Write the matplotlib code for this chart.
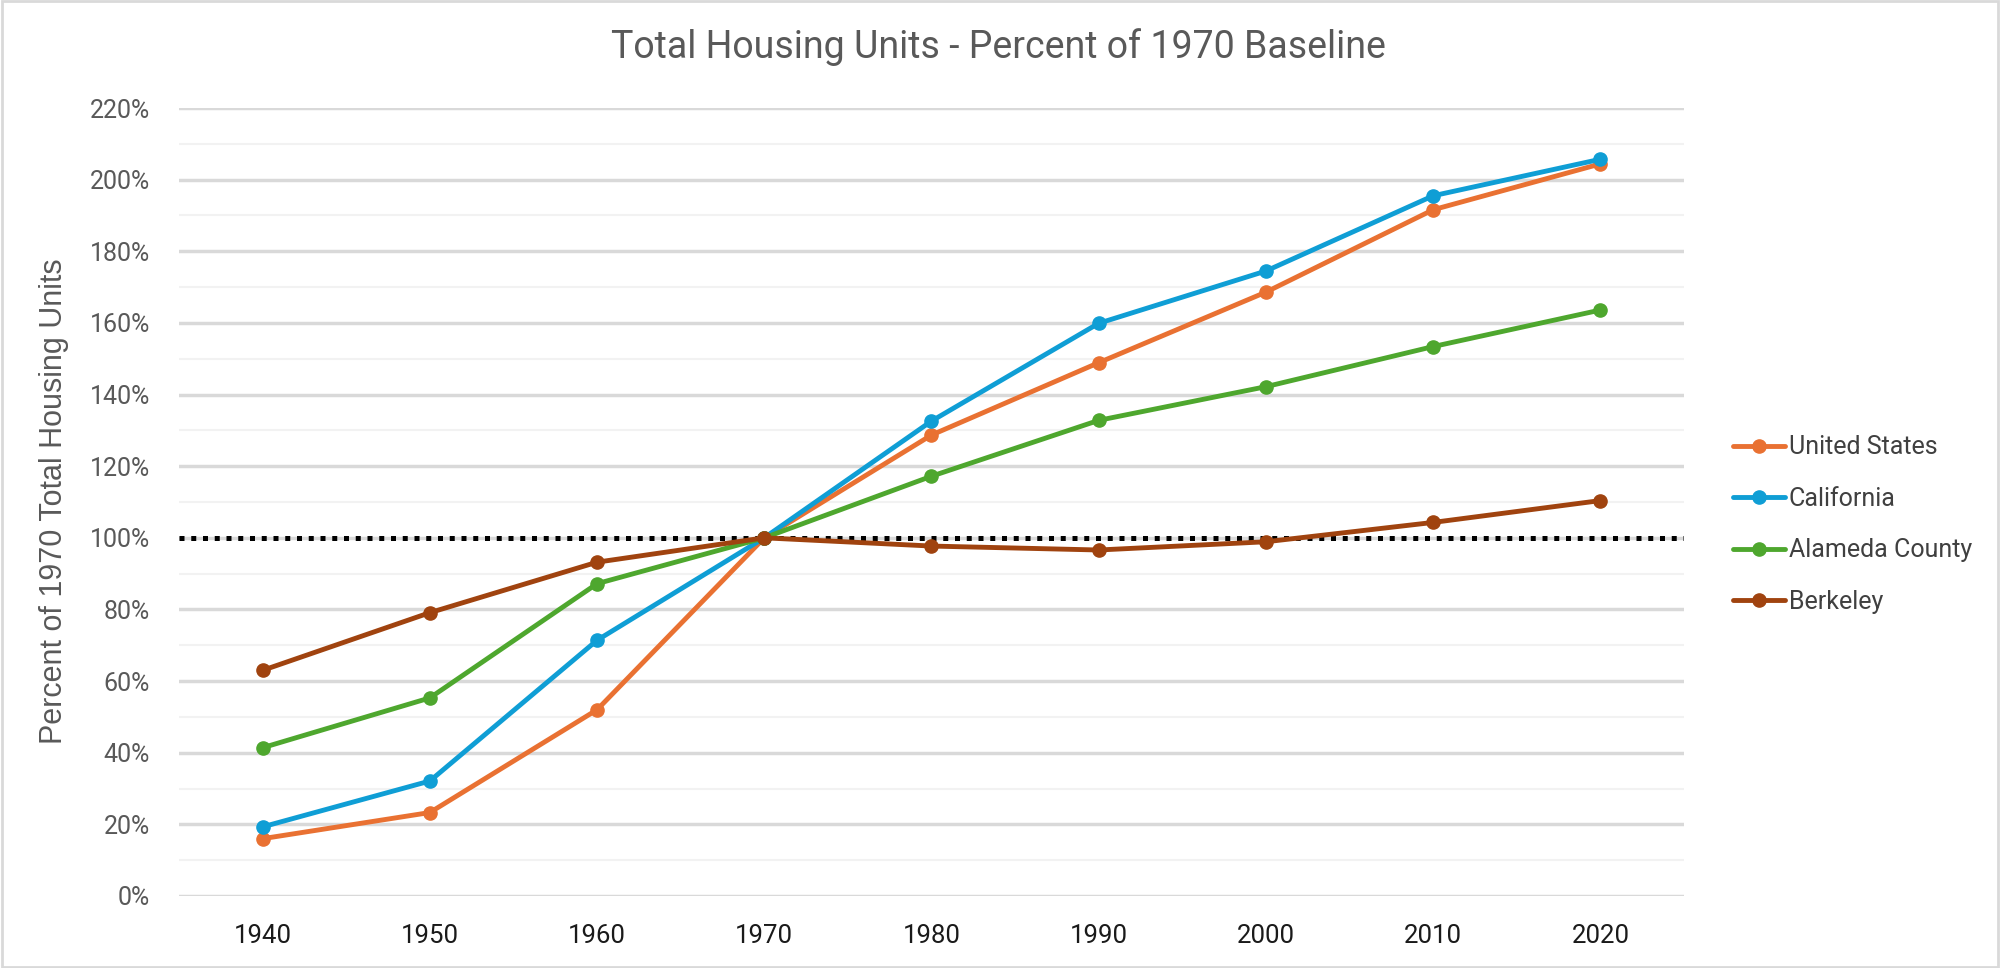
import numpy as np
import matplotlib.pyplot as plt
from matplotlib.ticker import FuncFormatter, MultipleLocator

years = ['1940', '1950', '1960', '1970', '1980', '1990', '2000', '2010', '2020']
us = [16.0, 23.3, 52.0, 100.0, 128.7, 148.9, 168.6, 191.6, 204.4]
california = [19.3, 32.1, 71.4, 100.0, 132.6, 159.9, 174.5, 195.5, 205.7]
alameda = [41.4, 55.3, 87.2, 100.0, 117.2, 132.8, 142.2, 153.4, 163.6]
berkeley = [63.0, 79.1, 93.2, 100.0, 97.7, 96.6, 98.9, 104.3, 110.4]
baseline = 100.0

names = ['United States', 'California', 'Alameda County', 'Berkeley']
colors = ['#E97132', '#0F9ED5', '#4EA72E', '#A0430F']

font = 'Roboto'

fig = plt.figure(figsize=(20, 9.68), dpi=100)
ax = fig.add_axes([0.0895, 0.0744, 0.7525, 0.814])

x = np.arange(len(years))

# gridlines: light minor every 10%, heavier major every 20%
ax.yaxis.set_major_locator(MultipleLocator(20))
ax.yaxis.set_minor_locator(MultipleLocator(10))
ax.grid(which='minor', axis='y', color='#F2F2F2', linewidth=1.5, zorder=0)
ax.grid(which='major', axis='y', color='#D9D9D9', linewidth=2.5, zorder=1)
ax.set_axisbelow(True)

ax.axhline(baseline, color='black', linewidth=3.6, linestyle=(0, (1.0, 1.35)), zorder=2)

for vals, name, c in zip([us, california, alameda, berkeley], names, colors):
    ax.plot(x, vals, color=c, linewidth=3.5, marker='o', markersize=9.5,
            label=name, zorder=3, solid_capstyle='round')

ax.set_xlim(-0.5, len(years) - 0.5)
ax.set_ylim(0, 220)
ax.set_xticks(x)
ax.set_xticklabels(years)
ax.yaxis.set_major_formatter(FuncFormatter(lambda v, p: '%d%%' % v))

for s in ax.spines.values():
    s.set_visible(False)
ax.tick_params(axis='both', which='both', length=0)
ax.tick_params(axis='y', pad=21, labelsize=18, labelcolor='#595959')
ax.tick_params(axis='x', pad=20, labelsize=18.5, labelcolor='#1a1a1a')
for lbl in ax.get_xticklabels() + ax.get_yticklabels():
    lbl.set_fontfamily(font)

fig.text(0.499, 0.951, 'Total Housing Units - Percent of 1970 Baseline',
         ha='center', va='center', fontsize=27, color='#595959', family=font)
fig.text(0.027, 0.482, 'Percent of 1970 Total Housing Units', rotation=90,
         ha='center', va='center', fontsize=22, color='#595959', family='Liberation Sans')

leg = ax.legend(loc='center left', bbox_to_anchor=(0.86, 0.458),
                bbox_transform=fig.transFigure, frameon=False, borderpad=0,
                handlelength=2.1, handletextpad=0.15, labelspacing=1.1,
                prop={'family': font, 'size': 18})
for t in leg.get_texts():
    t.set_color('#404040')

# thin light border round the chart area
fig.patches.append(plt.Rectangle((0.001, 0.001), 0.998, 0.998, transform=fig.transFigure,
                                 fill=False, edgecolor='#D9D9D9', linewidth=2))

plt.savefig('out.png', dpi=100)
plt.close()
